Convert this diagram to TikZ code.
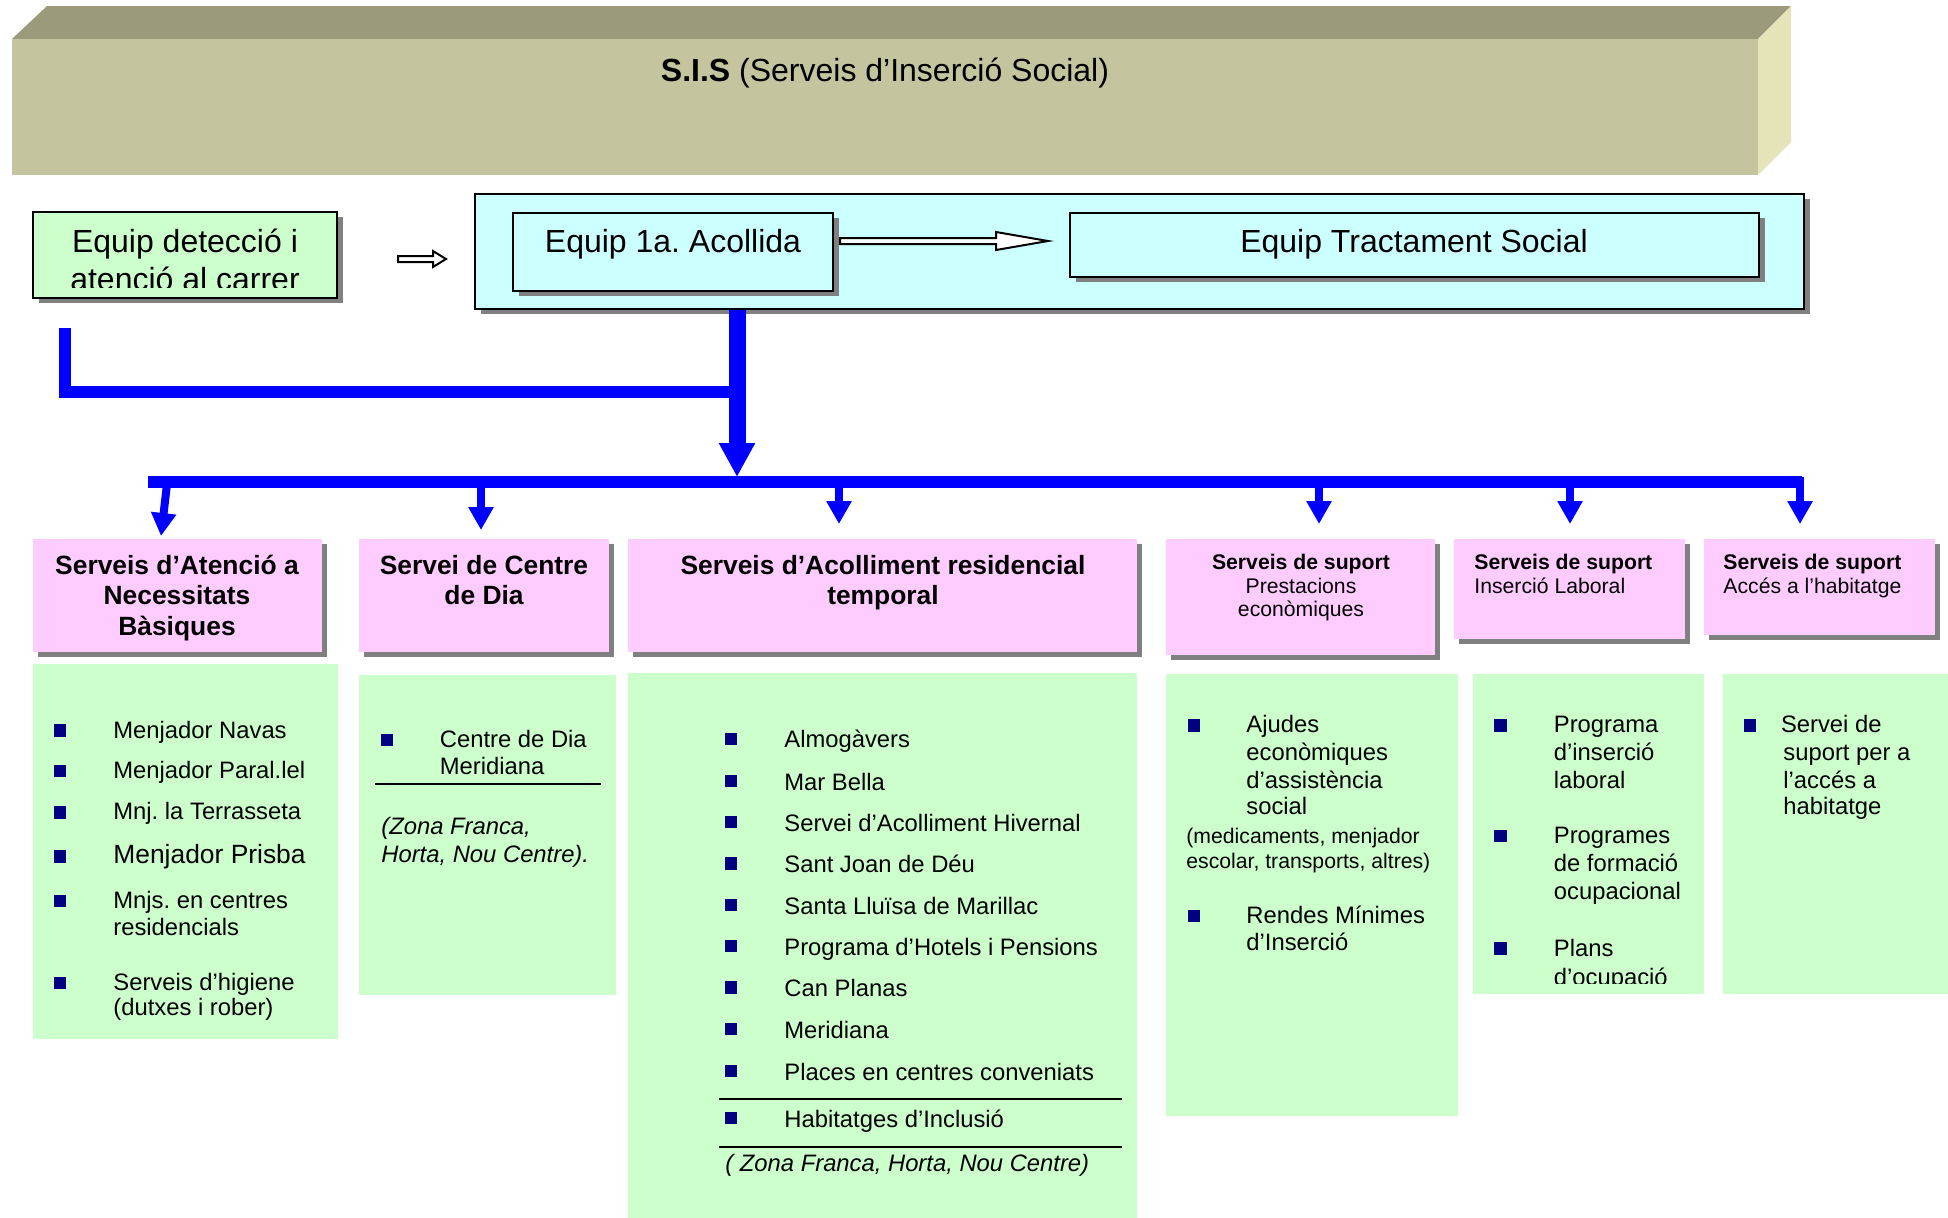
\documentclass[tikz,border=0pt]{standalone}
\usepackage{fontspec}
\setmainfont{Liberation Sans}
\usetikzlibrary{arrows.meta,fit,shadows}
\definecolor{pinkbox}{HTML}{FFCCFF}
\definecolor{greenbox}{HTML}{CCFFCC}
\definecolor{cyanbox}{HTML}{CCFFFF}
\definecolor{navyb}{HTML}{000080}
\definecolor{shgray}{HTML}{808080}
\definecolor{olivefront}{HTML}{C4C59E}
\definecolor{olivetop}{HTML}{9B9B7B}
\definecolor{oliveside}{HTML}{E4E4B8}
\definecolor{arrowblue}{HTML}{0000FF}
\tikzset{
  framed/.style={inner sep=0pt, draw=black, line width=1.2pt,
    drop shadow={shadow xshift=3pt, shadow yshift=-2.5pt, fill=shgray, draw=none, opacity=1}},
  hdr/.style={inner sep=0pt, fill=pinkbox,
    drop shadow={shadow xshift=2.5pt, shadow yshift=-2.5pt, fill=shgray, draw=none, opacity=1}},
  panel/.style={inner sep=0pt, fill=greenbox},
  big/.style={anchor=base, inner sep=0pt, font=\fontsize{16}{19}\selectfont},
  hd/.style={anchor=base, inner sep=0pt, font=\fontsize{13.2}{15}\selectfont\bfseries},
  shb/.style={inner sep=0pt, font=\fontsize{10.6}{12.5}\selectfont\bfseries},
  shr/.style={inner sep=0pt, font=\fontsize{10.6}{12.5}\selectfont},
  li/.style={anchor=base west, inner sep=0pt, font=\fontsize{11.9}{14}\selectfont},
  lism/.style={anchor=base west, inner sep=0pt, font=\fontsize{10.6}{12.5}\selectfont},
  lit/.style={anchor=base west, inner sep=0pt, font=\fontsize{11.9}{14}\selectfont\itshape},
  sq/.style={fill=navyb, inner sep=0pt, minimum size=6.2pt},
  hollow/.style={draw=black, line width=1pt, fill=white},
  bluebar/.style={draw=arrowblue, line width=6pt},
  sarrow/.style={draw=arrowblue, line width=4pt, -{Triangle[length=11.5pt,width=12pt]}},
  bigarrow/.style={draw=arrowblue, line width=8.5pt, -{Triangle[length=17pt,width=17pt]}},
  sepline/.style={draw=black, line width=1pt}
}
\begin{document}
\frenchspacing
\begin{tikzpicture}[x=0.5pt,y=-0.5pt]
\useasboundingbox (0,0) rectangle (1948,1217);
\fill[white] (0,0) rectangle (1948,1217);

% ---- S.I.S 3D block
\fill[olivetop] (12,39) -- (47,6) -- (1791,6) -- (1758,39) -- cycle;
\fill[oliveside] (1758,39) -- (1791,6) -- (1791,142) -- (1758,175) -- cycle;
\node[fit={(12,39) (1758,175)}, inner sep=0pt, fill=olivefront] (sis) {};
\node[anchor=base, inner sep=0pt, font=\fontsize{16}{19}\selectfont] (sist) at (885,81)
  {\textbf{S.I.S} (Serveis d’Inserció Social)};

% ---- Equip detecció
\node[framed, fill=greenbox, fit={(33,212) (337,298)}] (det) {};
\begin{scope}
  \clip (35,214) rectangle (335,287);
  \node[big] (det1) at (185,252) {Equip detecció i};
  \node[big] (det2) at (185,290) {atenció al carrer};
\end{scope}
\draw[hollow] (398,256) -- (433,256) -- (433,251) -- (446,259) -- (433,267) -- (433,262) -- (398,262) -- cycle;

% ---- container
\node[framed, fill=cyanbox, fit={(475,194) (1804,309)}] (cont) {};
\node[framed, fill=cyanbox, fit={(513,213) (833,291)}] (acol) {};
\node[big] (acolt) at (673,252) {Equip 1a. Acollida};
\node[framed, fill=cyanbox, fit={(1070,213) (1759,277)}] (trac) {};
\node[big] (tract) at (1414,252) {Equip Tractament Social};
\draw[hollow] (840,238) -- (996,238) -- (996,232) -- (1048,241) -- (996,250) -- (996,244) -- (840,244) -- cycle;

% ---- blue connectors
\coordinate (hub) at (737,482);
\coordinate (lstart) at (65,328);
\coordinate (ljoin) at (737,392);
\draw[bluebar] (lstart) |- (ljoin);
\draw[bigarrow] (hub |- cont.south) -- (737,477);
\coordinate (busL) at (148,482);
\coordinate (busR) at (1802,482);
\draw[bluebar] (busL) -- (busR);

% ---- headers
\node[hdr, fit={(33,539) (322,652)}] (h1) {};
\node[hdr, fit={(359,539) (609,652)}] (h2) {};
\node[hdr, fit={(628,539) (1137,652)}] (h3) {};
\node[hdr, fit={(1166,539) (1435,655)}] (h4) {};
\node[hdr, fit={(1454,539) (1685,639)}] (h5) {};
\node[hdr, fit={(1704,539) (1935,635)}] (h6) {};

% small arrows
\coordinate (s1) at (167,484); \coordinate (e1) at (161,536);
\coordinate (s2) at (481,484); \coordinate (e2) at (481,530);
\coordinate (s3) at (839,484); \coordinate (e3) at (839,524);
\coordinate (s4) at (1319,484); \coordinate (e4) at (1319,524);
\coordinate (s5) at (1570,484); \coordinate (e5) at (1570,524);
\coordinate (s6) at (1800,477); \coordinate (e6) at (1800,524);
\foreach \i in {1,...,6} { \draw[sarrow] (s\i) -- (e\i); }

\node[hd] (h1a) at (177,574) {Serveis d’Atenció a};
\node[hd] (h1b) at (177,604.5) {Necessitats};
\node[hd] (h1c) at (177,635) {Bàsiques};
\node[hd] (h2a) at (484,574) {Servei de Centre};
\node[hd] (h2b) at (484,604.5) {de Dia};
\node[hd] (h3a) at (883,574) {Serveis d’Acolliment residencial};
\node[hd] (h3b) at (883,604) {temporal};
\node[shb, anchor=base] (h4a) at (1301,569) {Serveis de suport};
\node[shr, anchor=base] (h4b) at (1301,593) {Prestacions};
\node[shr, anchor=base] (h4c) at (1301,616.5) {econòmiques};
\node[shb, anchor=base west] (h5a) at (1474,569) {Serveis de suport};
\node[shr, anchor=base west] (h5b) at (1474,593) {Inserció Laboral};
\node[shb, anchor=base west] (h6a) at (1723,569) {Serveis de suport};
\node[shr, anchor=base west] (h6b) at (1723,593) {Accés a l’habitatge};

% ---- green panels
\node[panel, fit={(33,664) (338,1039)}] (g1) {};
\node[panel, fit={(359,674.5) (616,995)}] (g2) {};
\node[panel, fit={(628,673) (1137,1220)}] (g3) {};
\node[panel, fit={(1166,674) (1458,1116)}] (g4) {};
\node[panel, fit={(1473,674) (1704,994)}] (g5) {};
\node[panel, fit={(1723,674) (1950,994)}] (g6) {};

% panel 1
\node[sq] (b11) at (60,730.3) {};
\node[li] (l11) at (113,738) {Menjador Navas};
\node[sq] (b12) at (60,770.8) {};
\node[li] (l12) at (113,778.6) {Menjador Paral.lel};
\node[sq] (b13) at (60,812.4) {};
\node[li] (l13) at (113,819.2) {Mnj. la Terrasseta};
\node[sq] (b14) at (60,856.4) {};
\node[li, font=\fontsize{13.2}{15}\selectfont] (l14) at (113,863.1) {Menjador Prisba};
\node[sq] (b15) at (60,901) {};
\node[li] (l15) at (113,908.1) {Mnjs. en centres};
\node[li] (l15b) at (113,935.2) {residencials};
\node[sq] (b16) at (60,983.2) {};
\node[li] (l16) at (113,990.6) {Serveis d’higiene};
\node[li] (l16b) at (113,1015) {(dutxes i rober)};

% panel 2
\node[sq] (b21) at (387,739.7) {};
\node[li] (l21) at (439.5,747.2) {Centre de Dia};
\node[li] (l21b) at (439.5,774.2) {Meridiana};
\draw[sepline] (375,783.7) -- (601,783.7);
\node[lit] (l22) at (381,834.4) {(Zona Franca,};
\node[lit] (l22b) at (381,862.1) {Horta, Nou Centre).};

% panel 3
\node[sq] (b31) at (731,738.7) {};
\node[li] (l31) at (784,747.7) {Almogàvers};
\node[sq] (b32) at (731,781) {};
\node[li] (l32) at (784,790) {Mar Bella};
\node[sq] (b33) at (731,821.8) {};
\node[li] (l33) at (784,831) {Servei d’Acolliment Hivernal};
\node[sq] (b34) at (731,863.6) {};
\node[li] (l34) at (784,872.6) {Sant Joan de Déu};
\node[sq] (b35) at (731,904.9) {};
\node[li] (l35) at (784,914) {Santa Lluïsa de Marillac};
\node[sq] (b36) at (731,945.8) {};
\node[li] (l36) at (784,955) {Programa d’Hotels i Pensions};
\node[sq] (b37) at (731,987.6) {};
\node[li] (l37) at (784,996.6) {Can Planas};
\node[sq] (b38) at (731,1028.9) {};
\node[li] (l38) at (784,1038) {Meridiana};
\node[sq] (b39) at (731,1071) {};
\node[li] (l39) at (784,1080) {Places en centres conveniats};
\draw[sepline] (719,1098.7) -- (1122,1098.7);
\node[sq] (b3a) at (731,1117.8) {};
\node[li] (l3a) at (784,1127) {Habitatges d’Inclusió};
\draw[sepline] (719,1146.7) -- (1122,1146.7);
\node[lit] (l3b) at (725,1171) {( Zona Franca, Horta, Nou Centre)};

% panel 4
\node[sq] (b41) at (1194,725.5) {};
\node[li] (l41a) at (1246,732.4) {Ajudes};
\node[li] (l41b) at (1246,760.3) {econòmiques};
\node[li] (l41c) at (1246,788) {d’assistència};
\node[li] (l41d) at (1246,814.7) {social};
\node[lism] (l41e) at (1186,843.4) {(medicaments, menjador};
\node[lism] (l41f) at (1186,868) {escolar, transports, altres)};
\node[sq] (b42) at (1194,916) {};
\node[li] (l42a) at (1246,923.7) {Rendes Mínimes};
\node[li] (l42b) at (1246,950.5) {d’Inserció};

% panel 5
\node[sq] (b51) at (1500.6,725.5) {};
\node[li] (l51a) at (1553.5,732.4) {Programa};
\node[li] (l51b) at (1553.5,760.3) {d’inserció};
\node[li] (l51c) at (1553.5,788) {laboral};
\node[sq] (b52) at (1500.6,836) {};
\node[li] (l52a) at (1553.5,843.4) {Programes};
\node[li] (l52b) at (1553.5,871.3) {de formació};
\node[li] (l52c) at (1553.5,899) {ocupacional};
\node[sq] (b53) at (1500.6,948.6) {};
\node[li] (l53a) at (1553.5,956.3) {Plans};
\begin{scope}
  \clip (1473,960) rectangle (1704,983);
  \node[li] (l53b) at (1553.5,985) {d’ocupació};
\end{scope}

% panel 6
\node[sq] (b61) at (1750,725.5) {};
\node[li] (l61a) at (1780.6,732.4) {Servei de};
\node[li] (l61b) at (1783,760.3) {suport per a};
\node[li] (l61c) at (1783,788) {l’accés a};
\node[li] (l61d) at (1783,814.7) {habitatge};
\end{tikzpicture}
\end{document}
